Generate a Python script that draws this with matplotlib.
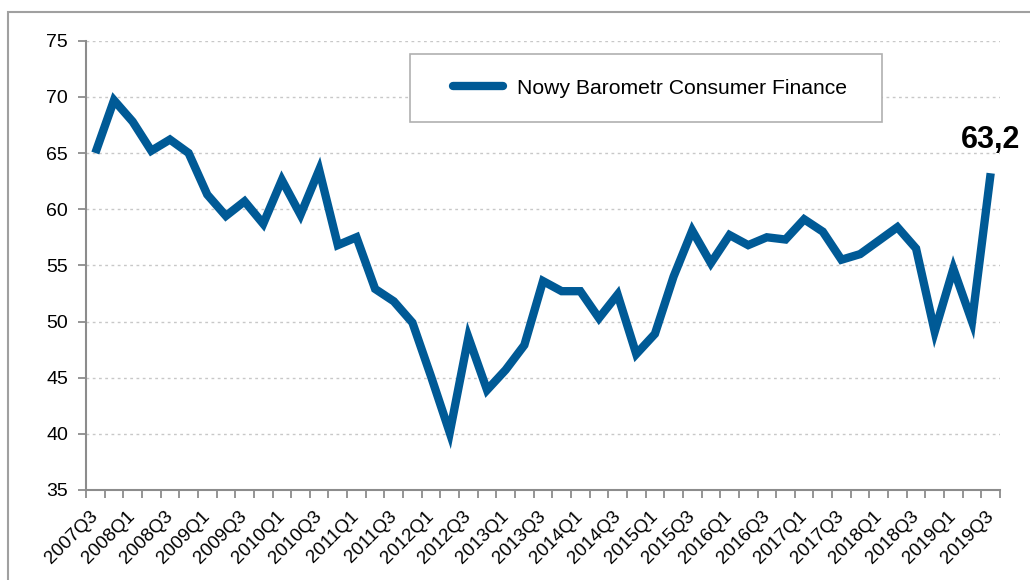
import numpy as np
import matplotlib.pyplot as plt
from matplotlib.patches import Rectangle

plt.rcParams['font.family'] = ['Liberation Sans', 'DejaVu Sans']

quarters = [f'{y}Q{q}' for y in range(2007, 2020) for q in range(1, 5)]
quarters = quarters[2:-1]  # 2007Q3 .. 2019Q3

values = [65.0, 69.7, 67.8, 65.2, 66.2, 65.0, 61.3, 59.4, 60.7, 58.7,
          62.6, 59.5, 63.5, 56.8, 57.5, 52.9, 51.8, 49.9, 45.1, 40.1,
          48.6, 43.9, 45.7, 47.9, 53.6, 52.7, 52.7, 50.3, 52.4, 47.1,
          48.9, 54.0, 58.1, 55.2, 57.7, 56.8, 57.5, 57.3, 59.1, 58.0,
          55.5, 56.0, 57.2, 58.4, 56.5, 49.1, 54.7, 50.0, 63.2]

yticks = [35, 40, 45, 50, 55, 60, 65, 70, 75]
last_label = '63,2'
series_name = 'Nowy Barometr Consumer Finance'

blue = '#005a96'
axis_gray = '#8c8c8c'

W, H = 1030, 580
fig = plt.figure(figsize=(W / 100, H / 100), dpi=100)
fig.patches.append(Rectangle((8 / W, -0.1), 1.2, 1 - 12 / H + 0.1,
                             transform=fig.transFigure, fill=False,
                             edgecolor='#a0a0a0', linewidth=1.5))

# plot area in pixels: x 86..1000, y 40.7..490
px0, px1, py0, py1 = 86, 1000, 40.7, 490
ax = fig.add_axes([px0 / W, 1 - py1 / H, (px1 - px0) / W, (py1 - py0) / H])

def axfrac(px, py):
    return (px - px0) / (px1 - px0), (py1 - py) / (py1 - py0)

x = np.arange(len(values))
ax.plot(x, values, color=blue, linewidth=6, solid_joinstyle='miter',
        solid_capstyle='butt', label=series_name)

ax.set_xlim(-0.5, len(values) - 0.5)
ax.set_ylim(35, 75)
ax.set_yticks(yticks)
ax.set_yticklabels([str(t) for t in yticks], fontsize=14)

ax.set_xticks(np.arange(-0.5, len(values)), minor=True)
ax.set_xticks(x[::2])
ax.set_xticklabels(quarters[::2], rotation=45, ha='right', va='center',
                   rotation_mode='anchor', fontsize=13.5)
ax.tick_params(axis='x', which='major', length=0, pad=17)
ax.tick_params(axis='x', which='minor', length=6, color=axis_gray, width=1.3)
ax.tick_params(axis='y', length=6, color=axis_gray, width=1.3, pad=7)

for s in ['top', 'right']:
    ax.spines[s].set_visible(False)
for s in ['left', 'bottom']:
    ax.spines[s].set_color(axis_gray)
    ax.spines[s].set_linewidth(1.5)

for t in yticks[1:]:
    ax.axhline(t, color='#c8c8c8', linewidth=1, linestyle=(0, (2, 2.5)), zorder=0)

ax.annotate(last_label, (x[-1], values[-1]), xytext=(0, 13), textcoords='offset points',
            ha='center', va='bottom', fontsize=22, fontweight='bold')

# legend box drawn separately so its size matches
bx0, by0 = axfrac(410, 122)
bx1, by1 = axfrac(882, 54)
ax.add_patch(Rectangle((bx0, by0), bx1 - bx0, by1 - by0, transform=ax.transAxes,
                       facecolor='white', edgecolor='#b0b0b0', linewidth=1.2, zorder=3))
leg = ax.legend(loc='center left', bbox_to_anchor=axfrac(453, 88),
                fontsize=15.2, frameon=False, handlelength=2.36,
                borderpad=0, borderaxespad=0, handletextpad=0.67)
leg.set_zorder(4)
for h in leg.get_lines():
    h.set_solid_capstyle('round')

fig.savefig('out.png', dpi=100)
